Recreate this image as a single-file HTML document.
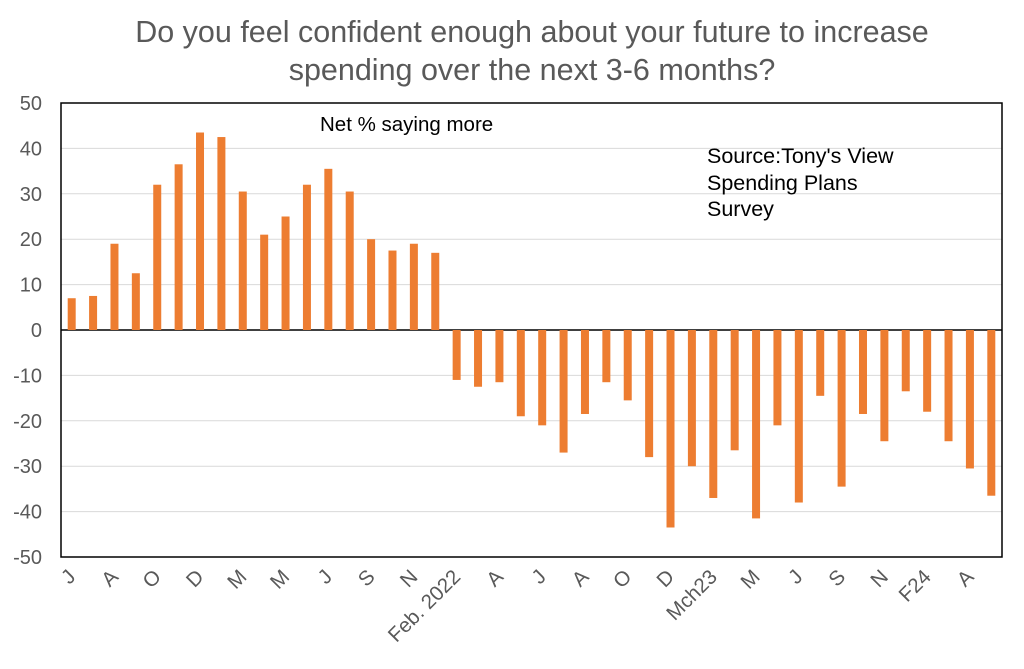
<!DOCTYPE html>
<html><head><meta charset="utf-8"><style>
body{margin:0;background:#fff;}
svg{display:block;font-family:"Liberation Sans",Arial,sans-serif;}
</style></head><body>
<svg id="c" width="1024" height="669">
<text x="532" y="42" text-anchor="middle" font-size="30.5" fill="#595959">Do you feel confident enough about your future to increase</text>
<text x="532" y="80" text-anchor="middle" font-size="30.5" fill="#595959">spending over the next 3-6 months?</text>
<g id="grid"></g>
<g id="bars"></g>
<g id="yt"></g>
<g id="xt"></g>
<rect x="61" y="103" width="941" height="454" fill="none" stroke="#000" stroke-width="1.5"/>
<text x="320" y="131" font-size="20.5" fill="#000">Net % saying more</text>
<g font-size="21.5" fill="#000">
<text x="707" y="163">Source:Tony's View</text>
<text x="707" y="190">Spending Plans</text>
<text x="707" y="216">Survey</text>
</g>
</svg>
<script>
const values=[7,7.5,19,12.5,32,36.5,43.5,42.5,30.5,21,25,32,35.5,30.5,20,17.5,19,17,
-11,-12.5,-11.5,-19,-21,-27,-18.5,-11.5,-15.5,-28,-43.5,-30,-37,-26.5,-41.5,-21,-38,-14.5,-34.5,-18.5,-24.5,-13.5,-18,-24.5,-30.5,-36.5];
const xLabels=["J","A","O","D","M","M","J","S","N","Feb. 2022","A","J","A","O","D","Mch23","M","J","S","N","F24","A"];
const yTicks=[50,40,30,20,10,0,-10,-20,-30,-40,-50];
const NS="http://www.w3.org/2000/svg";
const L=61,R=1002,T=103,B=557,ymin=-50,ymax=50;
const y=v=>B-(v-ymin)/(ymax-ymin)*(B-T);
const step=(R-L)/values.length;
const x=i=>L+step*(i+0.5);
function mk(t,a,p){const e=document.createElementNS(NS,t);for(const k in a)e.setAttribute(k,a[k]);p.appendChild(e);return e;}
const grid=document.getElementById('grid'),yt=document.getElementById('yt'),bars=document.getElementById('bars'),xt=document.getElementById('xt');
yTicks.forEach(v=>{
  const g=mk('line',{x1:L,x2:R,y1:y(v),y2:y(v),stroke:v===0?'#000':'#d9d9d9','stroke-width':v===0?1.5:1},grid);
  
  
  const t=mk('text',{x:L-19,y:y(v)+7,'text-anchor':'end','font-size':20,fill:'#595959'},yt);
  t.textContent=v;
  
  
});
values.forEach((v,i)=>{
  const w=8;
  const r=mk('rect',{x:x(i)-w/2,y:Math.min(y(v),y(0)),width:w,height:Math.abs(y(v)-y(0)),fill:'#ed7d31'},bars);
  
  
});
xLabels.forEach((s,j)=>{
  const i=j*2,cx=x(i)+5,cy=578;
  const t=mk('text',{x:cx,y:cy,'text-anchor':'end','font-size':20.5,fill:'#595959',transform:`rotate(-45 ${cx} ${cy})`},xt);
  t.textContent=s;
  
  
});
</script>
</body></html>
